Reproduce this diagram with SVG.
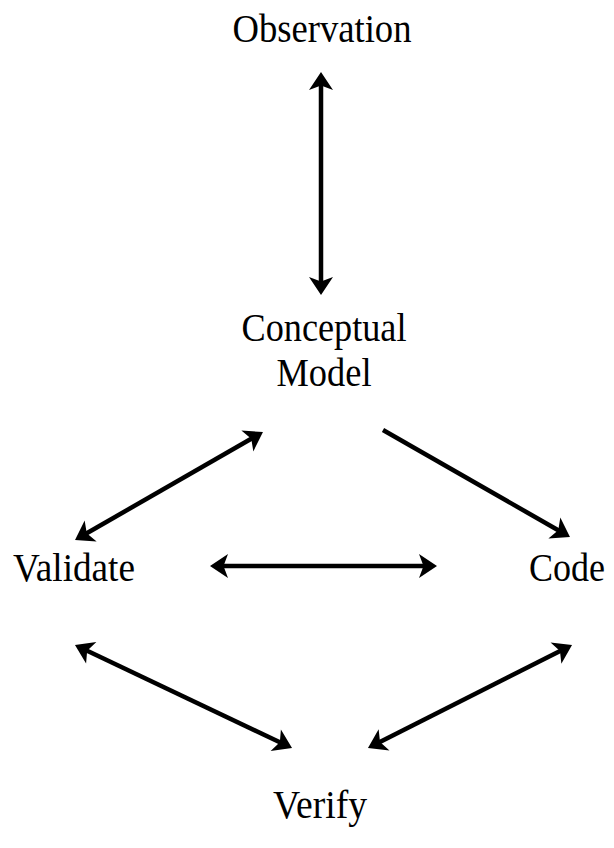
<svg xmlns="http://www.w3.org/2000/svg" width="614" height="848" viewBox="0 0 614 848">
<style>
.lbl{font-family:"Liberation Serif","Times New Roman",serif;font-size:40px;fill:#000;text-anchor:middle}
.c{stroke:#000;stroke-width:4.5;fill:none}
</style>
<defs>
<marker id="ah" viewBox="-20 -13 22 26" refX="-10" refY="0" markerWidth="22" markerHeight="26" markerUnits="userSpaceOnUse" orient="auto-start-reverse">
<path d="M0,0 L-18,-12 L-13.5,0 L-18,12 Z" fill="#000"/>
</marker>
</defs>
<rect width="614" height="848" fill="#fff"/>
<g id="observation"><text class="lbl" x="322" y="42" textLength="179" lengthAdjust="spacingAndGlyphs">Observation</text></g>
<g id="conceptual-model"><text class="lbl" x="324" y="341" textLength="165" lengthAdjust="spacingAndGlyphs">Conceptual</text><text class="lbl" x="324" y="386" textLength="95" lengthAdjust="spacingAndGlyphs">Model</text></g>
<g id="validate"><text class="lbl" x="74" y="581" textLength="122" lengthAdjust="spacingAndGlyphs">Validate</text></g>
<g id="code"><text class="lbl" x="567" y="581" textLength="76" lengthAdjust="spacingAndGlyphs">Code</text></g>
<g id="verify"><text class="lbl" x="320" y="818" textLength="94" lengthAdjust="spacingAndGlyphs">Verify</text></g>
<g id="connectors">
<line class="c" x1="321" y1="82" x2="321" y2="285" marker-start="url(#ah)" marker-end="url(#ah)"/>
<line class="c" x1="254.3" y1="437" x2="83.7" y2="535" marker-start="url(#ah)" marker-end="url(#ah)"/>
<line class="c" x1="383" y1="430" x2="561.3" y2="532" marker-end="url(#ah)"/>
<line class="c" x1="220" y1="566" x2="427" y2="566" marker-start="url(#ah)" marker-end="url(#ah)"/>
<line class="c" x1="84" y1="649.3" x2="283" y2="743.7" marker-start="url(#ah)" marker-end="url(#ah)"/>
<line class="c" x1="563.1" y1="649.5" x2="376.9" y2="743.5" marker-start="url(#ah)" marker-end="url(#ah)"/>
</g>
</svg>
